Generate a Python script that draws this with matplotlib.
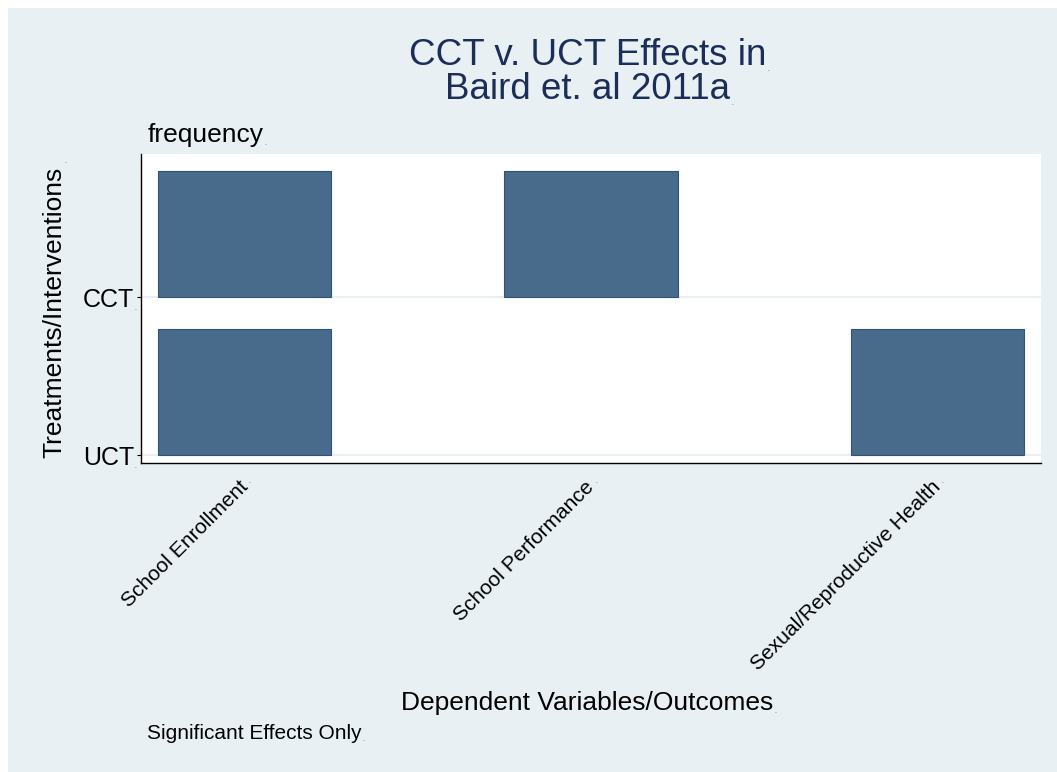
import numpy as np
import matplotlib.pyplot as plt
from matplotlib.patches import Rectangle

plt.rcParams['font.family'] = ['Liberation Sans', 'DejaVu Sans']

# Datos
outcomes = ['School Enrollment', 'School Performance', 'Sexual/Reproductive Health']
treatments = ['UCT', 'CCT']
cct_sig = [1, 1, 0]
uct_sig = [1, 0, 1]

bg = '#e8f0f3'
bar_color = '#486b8b'
edge_color = '#2e527a'

fig = plt.figure(figsize=(10.57, 7.72), dpi=100, facecolor=bg)
# pequeño borde blanco arriba y a la izquierda
fig.patches.append(Rectangle((0, 0), 8 / 1057, 1, transform=fig.transFigure,
                             facecolor='white', edgecolor='none', zorder=-10))
fig.patches.append(Rectangle((0, 1 - 8 / 772), 1, 8 / 772, transform=fig.transFigure,
                             facecolor='white', edgecolor='none', zorder=-10))

ax = fig.add_axes([0.1334, 0.4003, 0.8515, 0.4002])
ax.set_facecolor('white')

x = np.arange(len(outcomes))
for row, sig in enumerate([uct_sig, cct_sig]):
    for xi, s in zip(x, sig):
        if s:
            ax.bar(xi, 0.8 * s, bottom=row, width=0.5, color=bar_color,
                   edgecolor=edge_color, linewidth=0.8, zorder=3)

for row in range(len(treatments)):
    ax.axhline(row, color=bg, linewidth=1.5, zorder=1)

ax.set_xlim(-0.3, 2.3)
ax.set_ylim(-0.05, 1.905)
ax.set_yticks(range(len(treatments)))
ax.set_yticklabels(treatments, fontsize=18)
ax.set_xticks(x)
ax.set_xticklabels(outcomes, rotation=45, ha='right', va='center',
                   rotation_mode='anchor', fontsize=15)
ax.tick_params(axis='x', length=0, pad=15)
ax.tick_params(axis='y', length=3, pad=2)
for side in ['top', 'right']:
    ax.spines[side].set_visible(False)
for side in ['left', 'bottom']:
    ax.spines[side].set_linewidth(1.0)

texts = []
texts.append(fig.text(0.556, 0.9158, 'CCT v. UCT Effects in', ha='center', va='baseline',
                      fontsize=26.5, color='#1c2d57'))
texts.append(fig.text(0.556, 0.8718, 'Baird et. al 2011a', ha='center', va='baseline',
                      fontsize=26.5, color='#1c2d57'))
texts.append(fig.text(0.140, 0.825, 'frequency', ha='left', va='center', fontsize=19))
texts.append(fig.text(0.5555, 0.090, 'Dependent Variables/Outcomes', ha='center',
                      va='center', fontsize=19))
texts.append(fig.text(0.139, 0.050, 'Significant Effects Only', ha='left', va='center',
                      fontsize=15))
ylab = fig.text(0.051, 0.596, 'Treatments/Interventions', rotation=90,
                ha='center', va='center', fontsize=19)

# puntitos pequeños al final de cada texto (como en Stata)
for t in texts + list(ax.get_yticklabels()):
    ax.annotate('.', xy=(1, 0), xycoords=t, xytext=(0.5, 0), textcoords='offset points',
                fontsize=5, ha='left', va='bottom', color='#555555', annotation_clip=False)
for t in ax.get_xticklabels():
    ax.annotate('.', xy=(1, 1), xycoords=t, xytext=(-2, -6), textcoords='offset points',
                fontsize=5, ha='left', va='bottom', color='#555555', annotation_clip=False)
ax.annotate('.', xy=(1, 1), xycoords=ylab, xytext=(-1, 1), textcoords='offset points',
            fontsize=5, ha='left', va='bottom', color='#555555', annotation_clip=False)

plt.savefig('out.png', dpi=100, facecolor=bg)
